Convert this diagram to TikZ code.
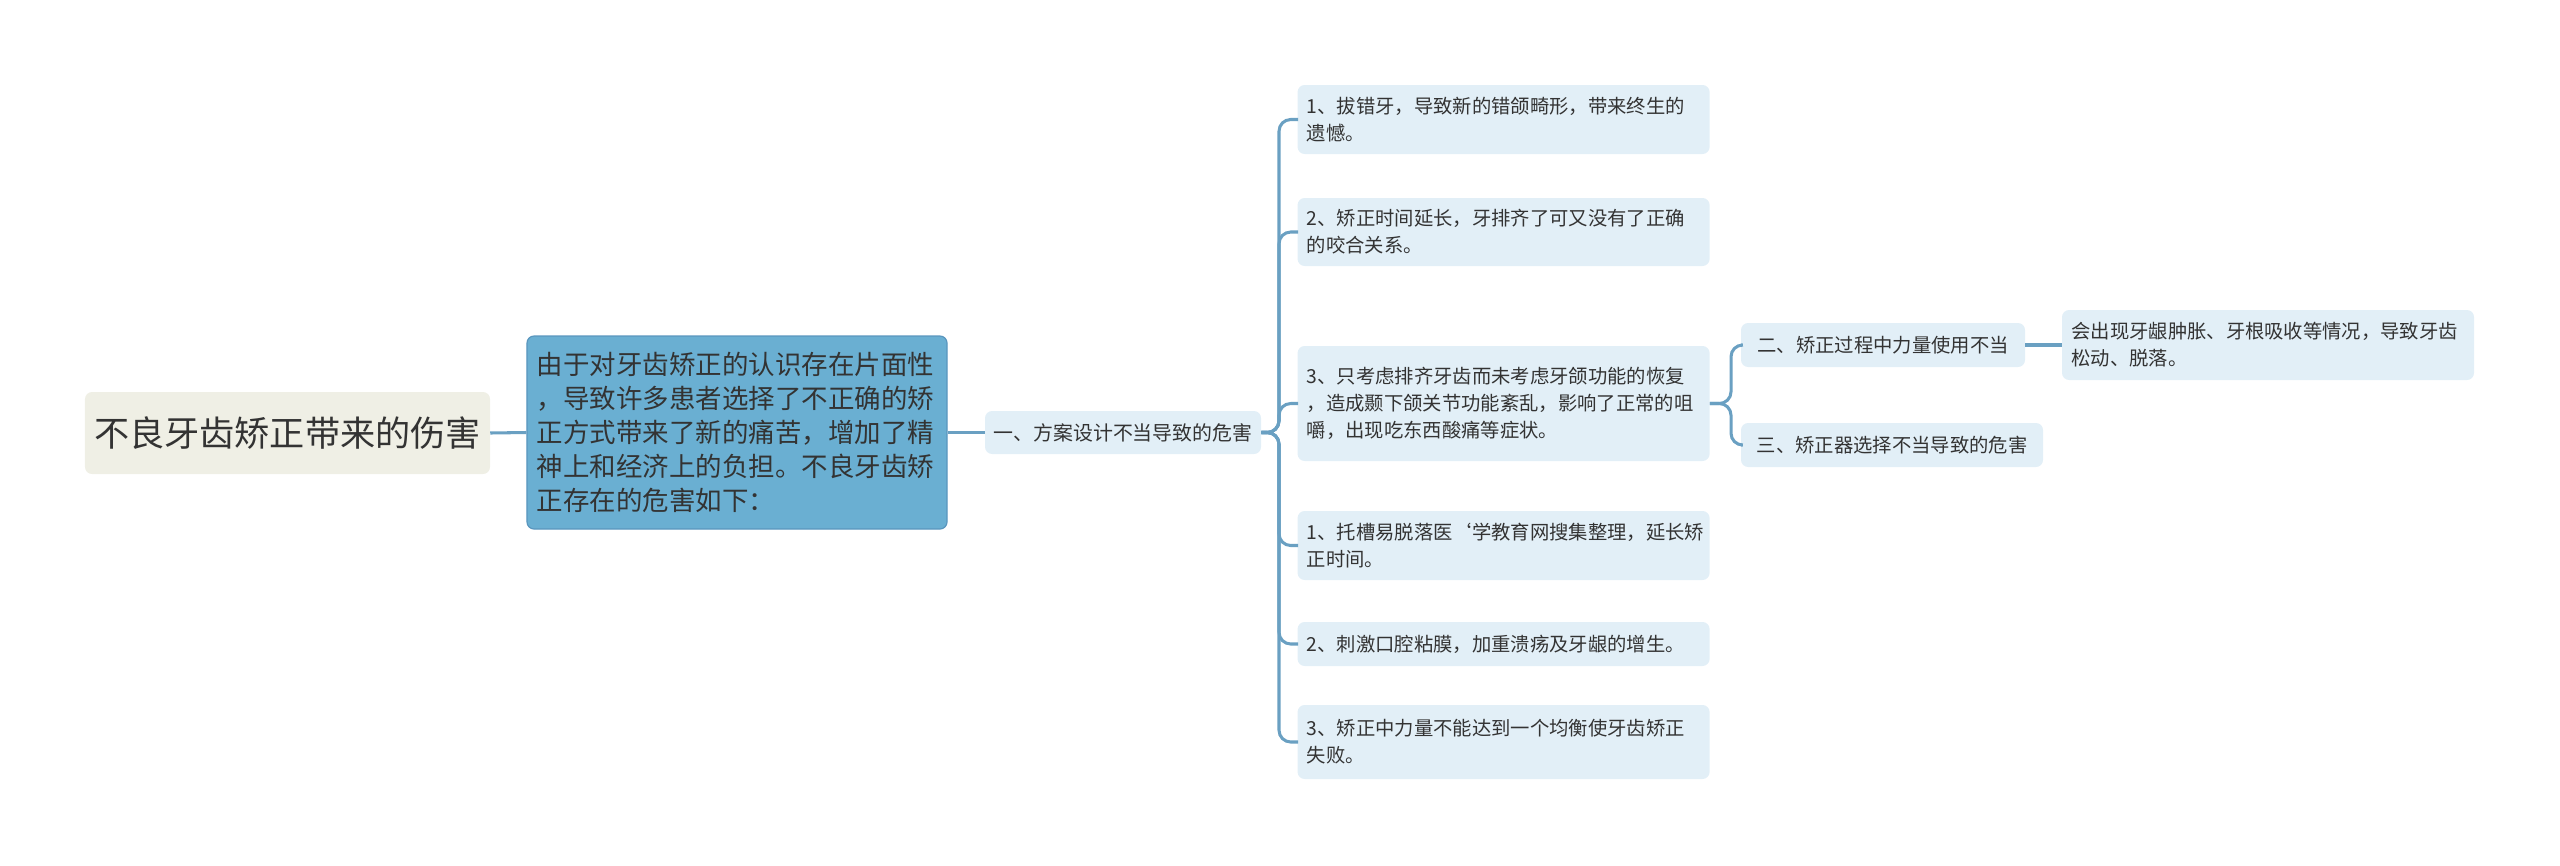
\documentclass[tikz,border=0pt]{standalone}
\usepackage{fontspec}
\setmainfont{Noto Sans CJK SC}
\begin{document}
\begin{tikzpicture}[x=0.03cm,y=-0.03cm,
 box/.style={rounded corners=6pt,inner sep=0pt,align=left,font=\fontsize{16.5}{23}\selectfont,text=black!80},
 leaf/.style={box,fill={rgb,255:red,226;green,239;blue,247}},
 link/.style={draw={rgb,255:red,106;green,160;blue,194},line width=2.6pt,rounded corners=10pt}]
\useasboundingbox (0,0) rectangle (2560,865);
\node[box,fill={rgb,255:red,239;green,239;blue,229},minimum width=12.15cm,minimum height=2.46cm,font=\fontsize{30}{36}\selectfont,align=center] (root) at (287.5,433) {不良牙齿矫正带来的伤害};
\node[box,fill={rgb,255:red,106;green,175;blue,210},draw={rgb,255:red,90;green,150;blue,190},line width=1pt,minimum width=12.6cm,minimum height=5.79cm,text width=12.0cm,font=\fontsize{22.6}{29}\selectfont] (n2) at (737,432.5) {由于对牙齿矫正的认识存在片面性\\，导致许多患者选择了不正确的矫\\正方式带来了新的痛苦，增加了精\\神上和经济上的负担。不良牙齿矫\\正存在的危害如下：};
\node[leaf,minimum width=8.28cm,minimum height=1.29cm,align=center,font=\fontsize{17}{22}\selectfont] (n3) at (1123,432.5) {一、方案设计不当导致的危害};
\foreach \n/\y/\h/\t in {
 l1/119.5/69/{1、拔错牙，导致新的错颌畸形，带来终生的\\遗憾。},
 l2/232/68/{2、矫正时间延长，牙排齐了可又没有了正确\\的咬合关系。},
 l3/403.5/115/{3、只考虑排齐牙齿而未考虑牙颌功能的恢复\\，造成颞下颌关节功能紊乱，影响了正常的咀\\嚼，出现吃东西酸痛等症状。},
 l4/545.5/69/{1、托槽易脱落医`学教育网搜集整理，延长矫\\正时间。},
 l5/644/44/{2、刺激口腔粘膜，加重溃疡及牙龈的增生。},
 l6/742/74/{3、矫正中力量不能达到一个均衡使牙齿矫正\\失败。}}{
 \node[leaf,anchor=west,minimum width=12.36cm,minimum height=\h*0.03cm,text width=11.8cm,xshift=0.25cm] (\n) at (1289,\y) {\t};
 \node[anchor=west,inner sep=0pt,minimum width=12.36cm,minimum height=\h*0.03cm] (\n w) at (1298,\y) {};
 \draw[link] (n3.east) -- (1279,432.5) |- (\n w.west);
}
\node[leaf,minimum width=8.52cm,minimum height=1.32cm,align=center] (s1) at (1883,345) {二、矫正过程中力量使用不当};
\node[leaf,minimum width=9.06cm,minimum height=1.32cm,align=center] (s2) at (1892,445) {三、矫正器选择不当导致的危害};
\node[leaf,minimum width=12.36cm,minimum height=2.1cm,text width=11.8cm] (f) at (2268,345) {会出现牙龈肿胀、牙根吸收等情况，导致牙齿\\松动、脱落。};
\draw[link] (l3.east) -- (1731,403.5) |- (s1.west);
\draw[link] (l3.east) -- (1731,403.5) |- (s2.west);
\draw[link] (s1.east) -- (f.west);
\draw[link] (root.east) -- (n2.west);
\draw[link] (n2.east) -- (n3.west);
\end{tikzpicture}
\end{document}
